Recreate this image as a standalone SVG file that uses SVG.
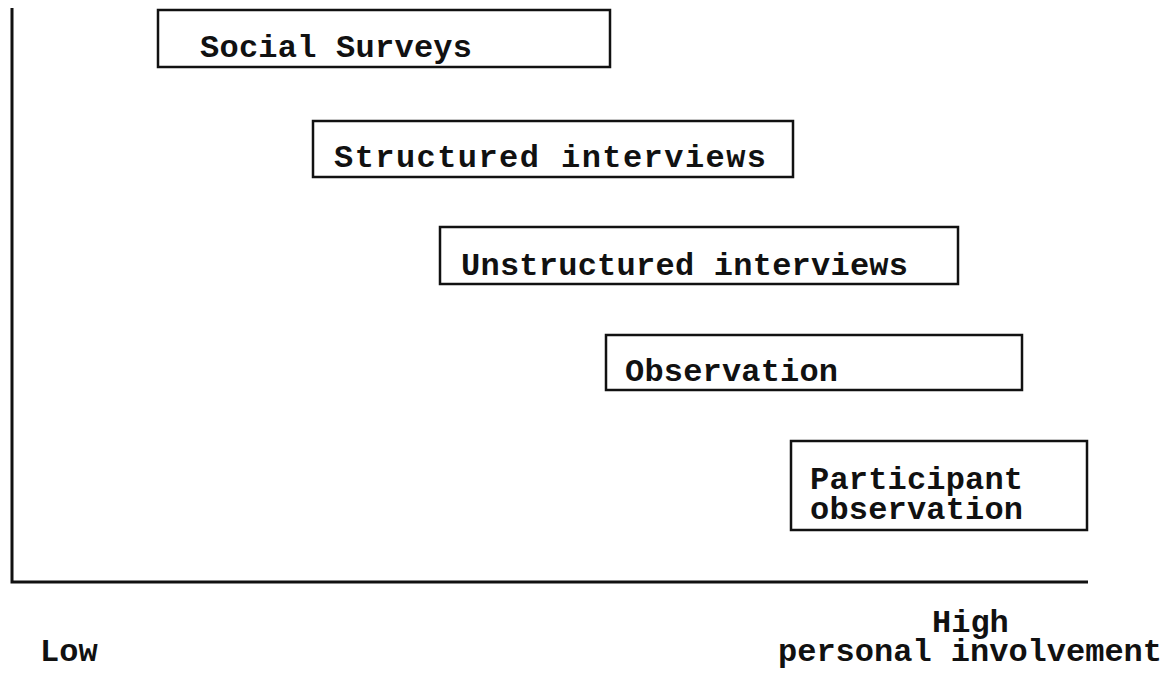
<svg xmlns="http://www.w3.org/2000/svg" width="1167" height="677" viewBox="0 0 1167 677">
<style>
.box{fill:#fff;stroke:#111;stroke-width:2.5}
.axis{stroke:#111;stroke-width:3;fill:none}
text{font-family:"Liberation Mono","Courier New",monospace;font-weight:bold;font-size:32px;fill:#111}
</style>
<rect width="1167" height="677" fill="#fff"/>
<g id="axes">
<path class="axis" d="M12 8 V582 H1088"/>
</g>
<g id="social-surveys">
<rect class="box" x="158" y="10" width="452" height="57"/>
<text x="200" y="57" textLength="272">Social Surveys</text>
</g>
<g id="structured-interviews">
<rect class="box" x="313" y="121" width="480" height="56"/>
<text x="334" y="167" textLength="432">Structured interviews</text>
</g>
<g id="unstructured-interviews">
<rect class="box" x="440" y="227" width="518" height="57"/>
<text x="461" y="275" textLength="447">Unstructured interviews</text>
</g>
<g id="observation">
<rect class="box" x="606" y="335" width="416" height="55"/>
<text x="625" y="381" textLength="213">Observation</text>
</g>
<g id="participant-observation">
<rect class="box" x="791" y="441" width="296" height="89"/>
<text x="810" y="489" textLength="213">Participant</text>
<text x="810" y="519" textLength="213">observation</text>
</g>
<g id="labels">
<text x="40" y="661">Low</text>
<text x="932" y="632">High</text>
<text x="778" y="661" textLength="384">personal involvement</text>
</g>
</svg>
